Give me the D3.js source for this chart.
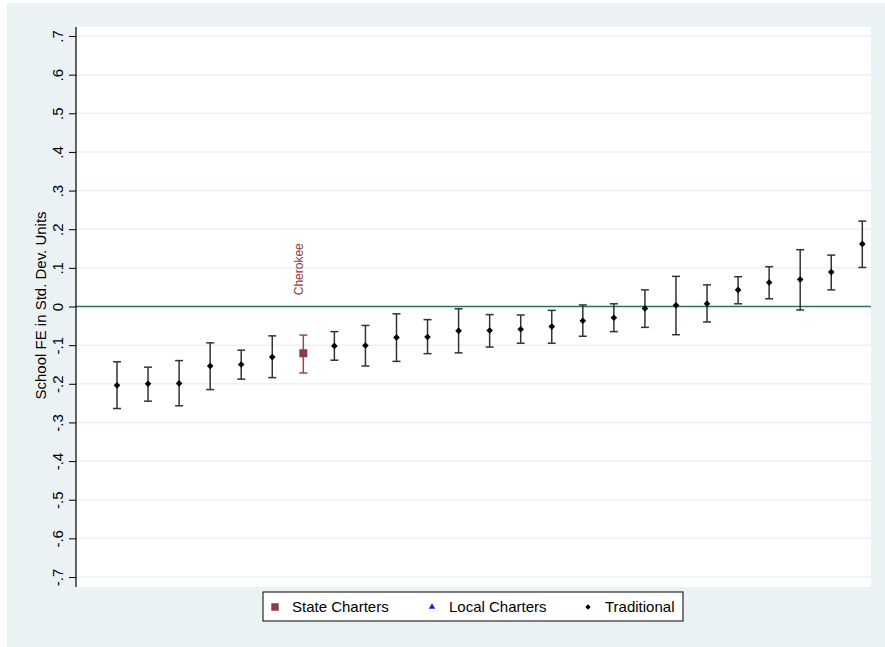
<!DOCTYPE html>
<html>
<head>
<meta charset="utf-8">
<script src="https://cdn.jsdelivr.net/npm/d3@7"></script>
<style>
html,body{margin:0;padding:0;background:#fff;}
svg{display:block;font-family:Arial,"Liberation Sans",Helvetica,sans-serif;}
</style>
</head>
<body>
<svg id="chart" width="885" height="647"></svg>
<script>
// Data (rank order of school fixed effects)
const ranks = d3.range(1, 26);
const estimates = [-0.204,-0.200,-0.199,-0.154,-0.150,-0.131,-0.121,-0.102,-0.101,-0.080,-0.079,-0.063,-0.062,-0.059,-0.052,-0.037,-0.029,-0.005,0.003,0.007,0.043,0.062,0.070,0.089,0.162];
const upper = [-0.143,-0.157,-0.140,-0.094,-0.113,-0.076,-0.074,-0.065,-0.049,-0.019,-0.034,-0.006,-0.021,-0.022,-0.010,0.004,0.007,0.043,0.078,0.056,0.077,0.103,0.147,0.133,0.221];
const lower = [-0.264,-0.245,-0.257,-0.215,-0.188,-0.184,-0.172,-0.139,-0.154,-0.142,-0.122,-0.120,-0.105,-0.095,-0.095,-0.077,-0.065,-0.054,-0.073,-0.040,0.007,0.020,-0.009,0.043,0.101];
const types = ["Traditional","Traditional","Traditional","Traditional","Traditional","Traditional","State Charters","Traditional","Traditional","Traditional","Traditional","Traditional","Traditional","Traditional","Traditional","Traditional","Traditional","Traditional","Traditional","Traditional","Traditional","Traditional","Traditional","Traditional","Traditional"];
const labels = ["","","","","","","Cherokee","","","","","","","","","","","","","","","","","",""];
const yTicks = [0.7,0.6,0.5,0.4,0.3,0.2,0.1,0,-0.1,-0.2,-0.3,-0.4,-0.5,-0.6,-0.7];
const yTickLabels = [".7",".6",".5",".4",".3",".2",".1","0","-.1","-.2","-.3","-.4","-.5","-.6","-.7"];
const legendItems = ["State Charters","Local Charters","Traditional"];

const data = ranks.map((r,i)=>({r, est:estimates[i], hi:upper[i], lo:lower[i], type:types[i], label:labels[i]}));

const bg = "#eaf2f3";
const colors = {"State Charters":"#8f3a44","Local Charters":"#1a1aff","Traditional":"#000000"};
const barColors = {"State Charters":"#9a4650","Local Charters":"#1a1aff","Traditional":"#333333"};

const svg = d3.select("#chart");
// graph region
svg.append("rect").attr("x",7).attr("y",3).attr("width",878).attr("height",644).attr("fill",bg);

const plot = {left:76, right:871, top:27, bottom:587};
svg.append("rect").attr("x",plot.left).attr("y",plot.top)
  .attr("width",plot.right-plot.left).attr("height",plot.bottom-plot.top).attr("fill","#fff");

const x = d3.scaleLinear().domain([-0.32, 25.28]).range([plot.left, plot.right]);
const y = d3.scaleLinear().domain([-0.7, 0.7]).range([577, 36]);

// gridlines
svg.append("g").selectAll("line").data(yTicks.filter(v=>v!==0)).join("line")
  .attr("x1",plot.left).attr("x2",plot.right)
  .attr("y1",d=>y(d)).attr("y2",d=>y(d))
  .attr("stroke",bg).attr("stroke-width",1.5);

// zero line
svg.append("line").attr("x1",plot.left).attr("x2",plot.right)
  .attr("y1",y(0)).attr("y2",y(0)).attr("stroke","#2a6e68").attr("stroke-width",1.5);

// y axis
const yAxis = d3.axisLeft(y).tickValues(yTicks).tickSize(7).tickPadding(4)
  .tickFormat((d,i)=>yTickLabels[i]);
const gy = svg.append("g").attr("transform",`translate(${plot.left},0)`).call(yAxis);
gy.select(".domain").attr("d",`M0,${plot.top}V${plot.bottom}`).attr("stroke","#000").attr("stroke-width",1.2);
gy.selectAll(".tick line").attr("stroke","#000");
gy.selectAll(".tick text")
  .attr("transform","translate(-18,0) rotate(-90)")
  .attr("x",0).attr("y",0).attr("dy","0.36em")
  .attr("text-anchor","middle")
  .style("font-size","15px")
  .attr("fill","#000");

// y axis title
svg.append("text").attr("transform",`translate(41,${y(0)-1}) rotate(-90)`)
  .attr("text-anchor","middle").attr("dy","0.36em")
  .style("font-size","15px").attr("fill","#000")
  .text("School FE in Std. Dev. Units");

// error bars
const capW = 7;
const eb = svg.append("g");
eb.selectAll("line.v").data(data).join("line").attr("class","v")
  .attr("x1",d=>x(d.r)).attr("x2",d=>x(d.r)).attr("y1",d=>y(d.hi)).attr("y2",d=>y(d.lo))
  .attr("stroke",d=>barColors[d.type]).attr("stroke-width",1.5);
eb.selectAll("line.t").data(data).join("line").attr("class","t")
  .attr("x1",d=>x(d.r)-capW/2-0.5).attr("x2",d=>x(d.r)+capW/2+0.5).attr("y1",d=>y(d.hi)).attr("y2",d=>y(d.hi))
  .attr("stroke",d=>barColors[d.type]).attr("stroke-width",1.5);
eb.selectAll("line.b").data(data).join("line").attr("class","b")
  .attr("x1",d=>x(d.r)-capW/2-0.5).attr("x2",d=>x(d.r)+capW/2+0.5).attr("y1",d=>y(d.lo)).attr("y2",d=>y(d.lo))
  .attr("stroke",d=>barColors[d.type]).attr("stroke-width",1.5);

// markers
const symType = {"State Charters":d3.symbolSquare,"Local Charters":d3.symbolTriangle,"Traditional":d3.symbolSquare};
const symRot = {"State Charters":0,"Local Charters":0,"Traditional":45};
const symSize = {"State Charters":64,"Local Charters":20,"Traditional":22};
svg.append("g").selectAll("path").data(data).join("path")
  .attr("transform",d=>`translate(${x(d.r)},${y(d.est)}) rotate(${symRot[d.type]})`)
  .attr("d",d=>d3.symbol().type(symType[d.type]).size(symSize[d.type])())
  .attr("fill",d=>colors[d.type]);

// marker labels
svg.append("g").selectAll("text").data(data.filter(d=>d.label)).join("text")
  .attr("transform",d=>`translate(${x(d.r)},${y(d.est)-58}) rotate(-90)`)
  .attr("text-anchor","start")
  .style("font-size","12px").attr("fill","#8f3a44")
  .text(d=>d.label);

// legend
const lg = svg.append("g");
lg.append("rect").attr("x",263).attr("y",592).attr("width",420).attr("height",29)
  .attr("fill","#fff").attr("stroke","#000").attr("stroke-width",1);
const legX = [275, 432, 588];
const legSize = {"State Charters":56,"Local Charters":18,"Traditional":14};
legendItems.forEach((name,i)=>{
  lg.append("path").attr("transform",`translate(${legX[i]},${607}) rotate(${symRot[name]})`)
    .attr("d",d3.symbol().type(symType[name]).size(legSize[name])()).attr("fill",colors[name]);
  lg.append("text").attr("x",legX[i]+17).attr("y",607).attr("dy","0.36em")
    .style("font-size","15px").attr("fill","#000").text(name);
});
</script>
</body>
</html>
